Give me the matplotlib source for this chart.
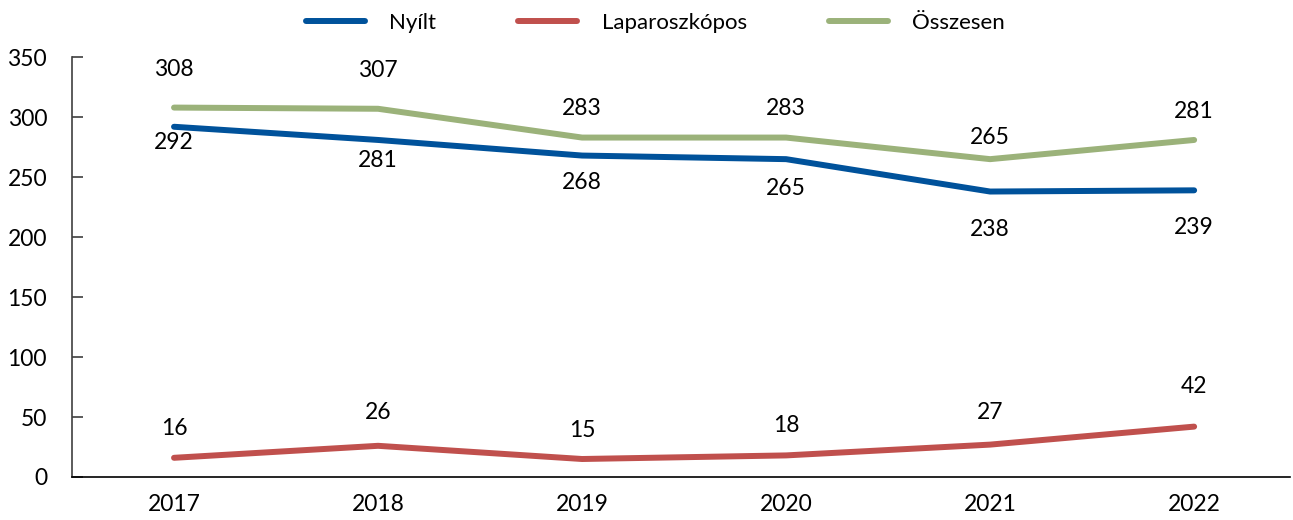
import matplotlib
matplotlib.use("Agg")
import matplotlib.pyplot as plt

years = ["2017", "2018", "2019", "2020", "2021", "2022"]
nyilt = [292, 281, 268, 265, 238, 239]
laparo = [16, 26, 15, 18, 27, 42]
osszesen = [308, 307, 283, 283, 265, 281]
yticks = [0, 50, 100, 150, 200, 250, 300, 350]

# label offsets in pixels (style, not data)
off_nyilt = [-16, -21, -27, -29, -38, -37]
off_laparo = [29, 33, 29, 30, 32, 40]
off_ossz = [38, 38, 29, 29, 22, 28]

plt.rcParams['font.family'] = ['Lato', 'DejaVu Sans']

DPI = 100
fig = plt.figure(figsize=(12.93, 5.2), dpi=DPI)
ax = fig.add_axes([0.0557, 0.0827, 0.942, 0.8073])

x = list(range(len(years)))
c_blue = "#00529B"
c_red = "#C0504D"
c_green = "#9BB27A"
lw = 4.3

l1, = ax.plot(x, nyilt, color=c_blue, lw=lw, solid_capstyle='round', label="Nyílt")
l2, = ax.plot(x, laparo, color=c_red, lw=lw, solid_capstyle='round', label="Laparoszkópos")
l3, = ax.plot(x, osszesen, color=c_green, lw=lw, solid_capstyle='round', label="Összesen")

px2pt = 72.0 / DPI
fs = 16.5
for series, offs in ((osszesen, off_ossz), (nyilt, off_nyilt), (laparo, off_laparo)):
    for xi, v, o in zip(x, series, offs):
        ax.annotate(str(v), (xi, v), xytext=(0, o * px2pt), textcoords='offset points',
                    ha='center', va='center', fontsize=fs)

ax.set_xlim(-0.5, 5.47)
ax.set_ylim(0, 350)
ax.set_yticks(yticks)
ax.set_xticks(x)
ax.set_xticklabels(years)
ax.tick_params(axis='y', direction='in', length=8, width=1.2, labelsize=fs, pad=18, color='#404040')
ax.tick_params(axis='x', length=0, labelsize=fs, pad=12)
ax.spines['top'].set_visible(False)
ax.spines['right'].set_visible(False)
ax.spines['left'].set_color('#404040')
ax.spines['left'].set_linewidth(1.2)
ax.spines['bottom'].set_linewidth(1.2)

leg = fig.legend(handles=[l1, l2, l3], loc='center', bbox_to_anchor=(0.507, 0.956),
                 ncol=3, frameon=False, fontsize=16, handlelength=2.65,
                 columnspacing=3.7, handletextpad=1.1)

fig.savefig("out.png", dpi=DPI)
